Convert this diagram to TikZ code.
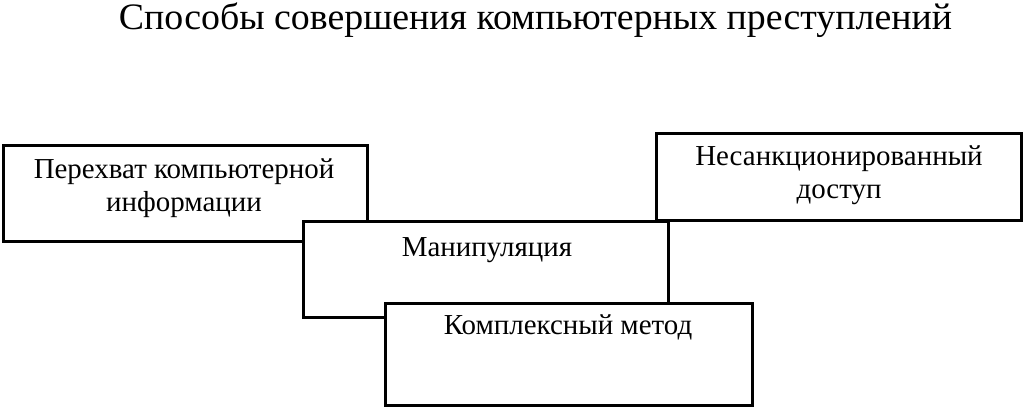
\documentclass[tikz,border=0pt]{standalone}
\usepackage{fontspec}
\setmainfont{Liberation Serif}
\tikzset{
  box/.style={draw=black, line width=2.25pt, fill=white, rectangle, inner sep=0pt, outer sep=0pt},
  lbl/.style={anchor=base, inner sep=0pt, outer sep=0pt, font=\fontsize{21.7}{24.75}\selectfont},
}
\newcommand{\twolines}[2]{\setlength{\tabcolsep}{0pt}\begin{tabular}[t]{c}#1\\#2\end{tabular}}
\begin{document}
\begin{tikzpicture}[x=0.75pt, y=-0.75pt]
\useasboundingbox (0,0) rectangle (1024,407);
\node[anchor=base, inner sep=0pt] (title) at (535.5,29)
  {\resizebox{624.75pt}{\height}{\fontsize{28}{32}\selectfont Способы совершения компьютерных преступлений}};
\node[box, minimum width=273pt, minimum height=72pt] (b1) at (185,193) {};
\node[box, minimum width=273.75pt, minimum height=65.25pt] (b2) at (838.5,176.5) {};
\node[box, minimum width=273.75pt, minimum height=72pt] (b3) at (485.5,269) {};
\node[box, minimum width=275.25pt, minimum height=76.5pt] (b4) at (568.5,354) {};
\node[lbl] (t1) at (184,178) {\twolines{Перехват компьютерной}{информации}};
\node[lbl] (t2) at (839,165) {\twolines{Несанкционированный}{доступ}};
\node[lbl] (t3) at (487,256) {Манипуляция};
\node[lbl] (t4) at (568,334) {Комплексный метод};
\end{tikzpicture}
\end{document}
